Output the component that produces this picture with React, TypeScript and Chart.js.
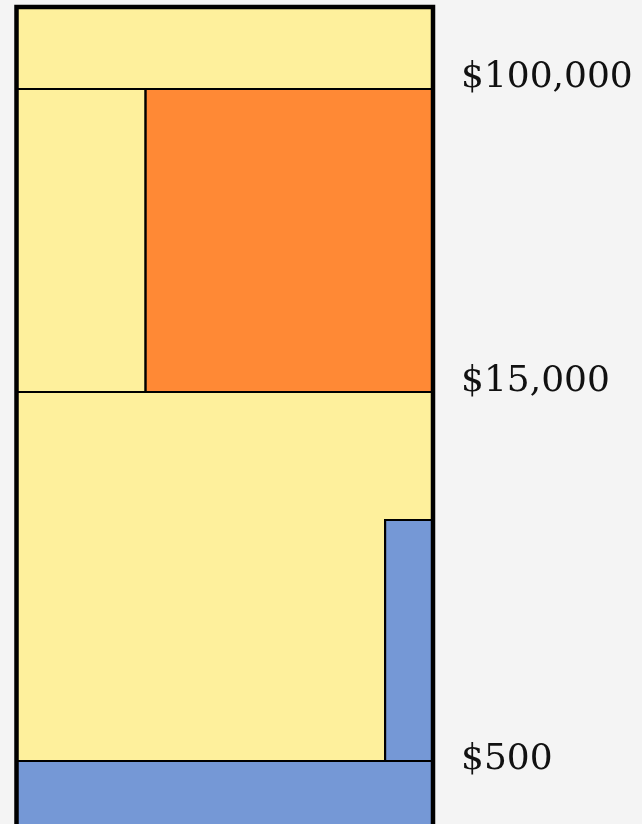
import React, { useEffect, useRef } from "react";
import { Chart, registerables } from "chart.js";

Chart.register(...registerables);

// Blocks of the diagram (x in % of width, y in height units from the bottom;
// the bottom block continues below the visible area)
const blockNames = ["top", "upperLeft", "upperRight", "middle", "sideBar", "bottom"];
const blockX0 = [0, 0, 31, 0, 88.5, 0];
const blockX1 = [100, 31, 100, 100, 100, 100];
const blockY0 = [735, 432, 432, 63, 63, -8];
const blockY1 = [817, 735, 735, 432, 304, 63];
const blockColors = ["#FEF09C", "#FEF09C", "#FF8935", "#FEF09C", "#7598D6", "#7598D6"];

// Price labels on the right
const tickValues = [746, 442, 64];
const tickLabels = ["$100,000", "$15,000", "$500"];

const Y_MIN = 0;
const Y_MAX = 817;
const FRAME_BOTTOM = -8;

function rectPoints(i: number) {
  return [
    { x: blockX0[i], y: blockY0[i] },
    { x: blockX1[i], y: blockY0[i] },
    { x: blockX1[i], y: blockY1[i] },
    { x: blockX0[i], y: blockY1[i] },
    { x: blockX0[i], y: blockY0[i] },
  ];
}

export default function App() {
  const ref = useRef<HTMLCanvasElement | null>(null);

  useEffect(() => {
    document.body.style.margin = "0";
    document.body.style.background = "#f4f4f4";
    document.documentElement.style.background = "#f4f4f4";
    document.body.style.overflow = "hidden";
    if (!ref.current) return;

    const frame = {
      label: "frame",
      data: [
        { x: 0, y: FRAME_BOTTOM },
        { x: 0, y: Y_MAX },
        { x: 100, y: Y_MAX },
        { x: 100, y: FRAME_BOTTOM },
      ],
      borderColor: "#000",
      borderWidth: 4.5,
      borderJoinStyle: "miter",
      fill: false,
      pointRadius: 0,
      tension: 0,
      order: 0,
      clip: 6,
    };

    const blocks = blockNames.map((name, i) => ({
      label: name,
      data: rectPoints(i),
      borderColor: "#000",
      borderWidth: 2.2,
      backgroundColor: blockColors[i],
      fill: "shape",
      pointRadius: 0,
      tension: 0,
      order: 1 + (blockNames.length - i),
    }));

    const chart = new Chart(ref.current, {
      type: "line",
      data: { datasets: [frame, ...blocks] as any },
      options: {
        animation: false,
        responsive: false,
        events: [],
        layout: { padding: { left: 16.5, top: 7, right: 0, bottom: 0 } },
        plugins: {
          legend: { display: false },
          tooltip: { enabled: false },
          filler: { propagate: false },
        },
        scales: {
          x: {
            type: "linear",
            min: 0,
            max: 100,
            display: false,
          },
          y: {
            type: "linear",
            position: "right",
            min: Y_MIN,
            max: Y_MAX,
            grid: { display: false, drawTicks: false },
            border: { display: false },
            afterBuildTicks: (axis: any) => {
              axis.ticks = tickValues.map((v) => ({ value: v }));
            },
            afterFit: (axis: any) => {
              axis.width = 642 - 433;
              axis.paddingTop = 0;
              axis.paddingBottom = 0;
            },
            ticks: {
              padding: 28,
              color: "#111",
              font: { family: "'DejaVu Serif', serif", size: 36 },
              callback: (_v: any, i: number) => tickLabels[i],
            },
          },
        },
      } as any,
    });
    return () => chart.destroy();
  }, []);

  return (
    <div style={{ width: 642, height: 824 }}>
      <canvas ref={ref} width={642} height={824} style={{ display: "block" }} />
    </div>
  );
}
